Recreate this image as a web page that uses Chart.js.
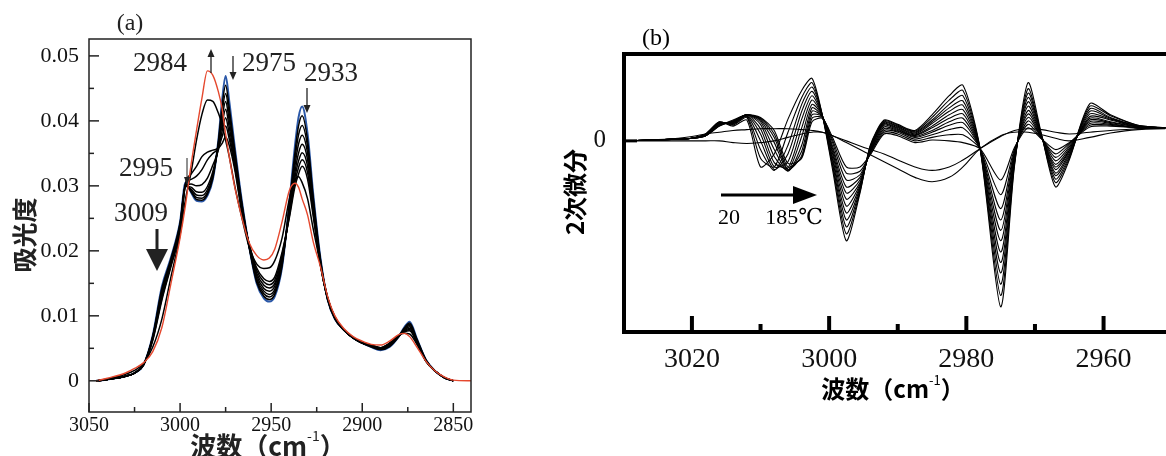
<!DOCTYPE html>
<html>
<head>
<meta charset="utf-8">
<script src="https://cdn.jsdelivr.net/npm/chart.js@4.4.0/dist/chart.umd.min.js"></script>
<style>
  html, body { margin: 0; padding: 0; background: #fff; }
  #wrap { position: relative; width: 1166px; height: 456px; overflow: hidden; background: #fff; }
  .panel { position: absolute; top: 0; height: 456px; }
</style>
</head>
<body>
<div id="wrap">
  <div class="panel" style="left:0;width:560px"><canvas id="chartA"></canvas></div>
  <div class="panel" style="left:560px;width:606px"><canvas id="chartB"></canvas></div>
</div>
<script>
// ---- panel (a): absorbance spectra ----
const wnA = [3046, 3040, 3030, 3025, 3020, 3015, 3010, 3005, 3000, 2997, 2994, 2991, 2988, 2985, 2982, 2979, 2977, 2975, 2973, 2970,
             2966, 2962, 2958, 2954, 2951, 2948, 2944, 2940, 2937, 2935, 2933, 2930, 2927, 2923, 2919, 2915, 2910, 2905, 2900, 2895,
             2890, 2885, 2880, 2877, 2874, 2870, 2865, 2860, 2855, 2850, 2840];

const absT1 = [0, 0.0002, 0.0007, 0.0012, 0.0025, 0.0070, 0.0145, 0.0190, 0.0245, 0.0305, 0.0290, 0.0277, 0.0276, 0.0285, 0.0310, 0.0370, 0.0430, 0.0469, 0.0430, 0.0360,
               0.0275, 0.0205, 0.0150, 0.0127, 0.0122, 0.0130, 0.0175, 0.0275, 0.0360, 0.0405, 0.0422, 0.0380, 0.0290, 0.0190, 0.0125, 0.0095, 0.0078, 0.0066, 0.0058, 0.0052,
               0.0047, 0.0052, 0.0068, 0.0082, 0.0091, 0.0065, 0.0032, 0.0015, 0.0005, 0, null];
const absT2 = [0, 0.0002, 0.0007, 0.0012, 0.0025, 0.0069, 0.0142, 0.0188, 0.0243, 0.0303, 0.0291, 0.0279, 0.0278, 0.0287, 0.0312, 0.0368, 0.0422, 0.0455, 0.0420, 0.0355,
               0.0272, 0.0205, 0.0152, 0.0130, 0.0125, 0.0133, 0.0177, 0.0272, 0.0350, 0.0392, 0.0408, 0.0370, 0.0285, 0.0188, 0.0125, 0.0095, 0.0078, 0.0066, 0.0058, 0.0052,
               0.0048, 0.0053, 0.0068, 0.0081, 0.0089, 0.0064, 0.0032, 0.0015, 0.0005, 0, null];
const absT3 = [0, 0.0002, 0.0007, 0.0012, 0.0025, 0.0068, 0.0139, 0.0186, 0.0241, 0.0301, 0.0293, 0.0282, 0.0281, 0.0290, 0.0315, 0.0365, 0.0412, 0.0442, 0.0410, 0.0350,
               0.0270, 0.0205, 0.0155, 0.0134, 0.0129, 0.0137, 0.0180, 0.0268, 0.0340, 0.0378, 0.0393, 0.0360, 0.0280, 0.0186, 0.0125, 0.0096, 0.0078, 0.0066, 0.0058, 0.0053,
               0.0048, 0.0053, 0.0068, 0.0080, 0.0087, 0.0063, 0.0032, 0.0015, 0.0005, 0, null];
const absT4 = [0, 0.0002, 0.0007, 0.0012, 0.0025, 0.0067, 0.0136, 0.0184, 0.0239, 0.0300, 0.0295, 0.0286, 0.0285, 0.0294, 0.0318, 0.0362, 0.0403, 0.0430, 0.0400, 0.0345,
               0.0267, 0.0206, 0.0158, 0.0138, 0.0133, 0.0141, 0.0183, 0.0264, 0.0330, 0.0364, 0.0378, 0.0350, 0.0275, 0.0184, 0.0126, 0.0096, 0.0078, 0.0066, 0.0058, 0.0053,
               0.0049, 0.0054, 0.0068, 0.0079, 0.0085, 0.0062, 0.0031, 0.0015, 0.0005, 0, null];
const absT5 = [0, 0.0002, 0.0007, 0.0012, 0.0025, 0.0066, 0.0133, 0.0182, 0.0237, 0.0299, 0.0298, 0.0291, 0.0290, 0.0299, 0.0322, 0.0358, 0.0393, 0.0418, 0.0390, 0.0340,
               0.0265, 0.0207, 0.0162, 0.0142, 0.0138, 0.0146, 0.0186, 0.0260, 0.0320, 0.0350, 0.0364, 0.0340, 0.0270, 0.0182, 0.0126, 0.0097, 0.0078, 0.0066, 0.0058, 0.0054,
               0.0049, 0.0055, 0.0069, 0.0078, 0.0083, 0.0061, 0.0031, 0.0015, 0.0005, 0, null];
const absT6 = [0, 0.0002, 0.0007, 0.0012, 0.0025, 0.0065, 0.0130, 0.0180, 0.0235, 0.0300, 0.0303, 0.0300, 0.0302, 0.0312, 0.0332, 0.0355, 0.0383, 0.0405, 0.0380, 0.0335,
               0.0262, 0.0208, 0.0166, 0.0147, 0.0143, 0.0150, 0.0190, 0.0257, 0.0312, 0.0338, 0.0351, 0.0330, 0.0265, 0.0180, 0.0127, 0.0097, 0.0078, 0.0066, 0.0058, 0.0054,
               0.0050, 0.0056, 0.0069, 0.0077, 0.0081, 0.0060, 0.0031, 0.0015, 0.0005, 0, null];
const absT7 = [0, 0.0002, 0.0007, 0.0012, 0.0025, 0.0064, 0.0127, 0.0178, 0.0233, 0.0302, 0.0310, 0.0315, 0.0325, 0.0340, 0.0350, 0.0358, 0.0375, 0.0392, 0.0372, 0.0330,
               0.0260, 0.0209, 0.0170, 0.0152, 0.0148, 0.0155, 0.0194, 0.0254, 0.0305, 0.0328, 0.0340, 0.0320, 0.0260, 0.0179, 0.0127, 0.0098, 0.0078, 0.0066, 0.0058, 0.0055,
               0.0050, 0.0057, 0.0069, 0.0076, 0.0079, 0.0059, 0.0030, 0.0015, 0.0005, 0, null];
const absT8 = [0, 0.0002, 0.0007, 0.0012, 0.0025, 0.0062, 0.0124, 0.0176, 0.0231, 0.0304, 0.0318, 0.0330, 0.0345, 0.0352, 0.0355, 0.0358, 0.0365, 0.0375, 0.0362, 0.0325,
               0.0258, 0.0210, 0.0174, 0.0157, 0.0153, 0.0160, 0.0198, 0.0251, 0.0298, 0.0318, 0.0330, 0.0310, 0.0255, 0.0178, 0.0128, 0.0098, 0.0078, 0.0066, 0.0058, 0.0055,
               0.0051, 0.0058, 0.0070, 0.0075, 0.0077, 0.0058, 0.0030, 0.0015, 0.0005, 0, null];
const absT9 = [0, 0.0003, 0.0010, 0.0016, 0.0027, 0.0052, 0.0095, 0.0160, 0.0225, 0.0280, 0.0320, 0.0370, 0.0410, 0.0432, 0.0430, 0.0412, 0.0395, 0.0370, 0.0345, 0.0300,
               0.0250, 0.0205, 0.0180, 0.0173, 0.0174, 0.0185, 0.0220, 0.0280, 0.0308, 0.0314, 0.0305, 0.0280, 0.0235, 0.0180, 0.0128, 0.0098, 0.0079, 0.0067, 0.0059, 0.0055,
               0.0051, 0.0058, 0.0070, 0.0073, 0.0072, 0.0056, 0.0030, 0.0015, 0.0005, 0, null];
const absRed = [0, 0.0004, 0.0012, 0.0019, 0.0028, 0.0045, 0.0082, 0.0150, 0.0220, 0.0271, 0.0332, 0.0385, 0.0435, 0.0477, 0.0470, 0.0445, 0.0420, 0.0380, 0.0345, 0.0298,
                0.0250, 0.0212, 0.0193, 0.0186, 0.0189, 0.0203, 0.0245, 0.0293, 0.0304, 0.0298, 0.0280, 0.0255, 0.0215, 0.0176, 0.0130, 0.0100, 0.0080, 0.0068, 0.0061, 0.0056,
                0.0055, 0.0061, 0.0071, 0.0073, 0.0068, 0.0052, 0.0030, 0.0015, 0.0006, 0.0001, 0];

const xMajorA = [3050, 3000, 2950, 2900, 2850];
const xMinorA = [3025, 2975, 2925, 2875];
const yMajorA = [0, 0.01, 0.02, 0.03, 0.04, 0.05];
const yMinorA = [0.005, 0.015, 0.025, 0.035, 0.045];

// ---- panel (b): second derivative spectra ----
const wnB = [3030, 3026, 3022, 3020, 3018, 3016, 3014, 3012, 3010, 3008, 3006, 3004, 3002.5, 3001, 2999.5, 2997.5, 2995.5, 2994,
             2992, 2990, 2987.5, 2985, 2982.5, 2980.5, 2978, 2975, 2973, 2971, 2969, 2967, 2965, 2962, 2959, 2955, 2951];

const d2T1  = [0, 0.01, 0.02, 0.03, 0.08, 0.22, 0.17, 0.24, -0.30, -0.15, 0.25, 0.58, 0.72, 0.30, -0.33, -1.15, -0.60, -0.05, 0.24, 0.19, 0.12, 0.30, 0.52, 0.64, -0.09, -1.91, -0.30, 0.67, 0.06, -0.53, -0.22, 0.43, 0.30, 0.18, 0.15];
const d2T2  = [0, 0.01, 0.02, 0.03, 0.08, 0.22, 0.18, 0.27, -0.20, -0.30, 0.10, 0.50, 0.67, 0.30, -0.29, -1.07, -0.58, -0.06, 0.23, 0.18, 0.11, 0.27, 0.47, 0.58, -0.09, -1.78, -0.28, 0.60, 0.05, -0.48, -0.20, 0.40, 0.29, 0.18, 0.15];
const d2T3  = [0, 0.01, 0.02, 0.03, 0.08, 0.21, 0.19, 0.28, -0.10, -0.34, -0.05, 0.42, 0.62, 0.30, -0.26, -0.99, -0.56, -0.07, 0.22, 0.17, 0.10, 0.24, 0.42, 0.52, -0.09, -1.65, -0.26, 0.55, 0.05, -0.44, -0.18, 0.37, 0.27, 0.17, 0.15];
const d2T4  = [0, 0.01, 0.02, 0.03, 0.07, 0.21, 0.20, 0.29, 0.00, -0.33, -0.15, 0.34, 0.57, 0.29, -0.22, -0.91, -0.54, -0.08, 0.21, 0.16, 0.09, 0.22, 0.38, 0.46, -0.09, -1.52, -0.24, 0.50, 0.05, -0.40, -0.16, 0.34, 0.26, 0.17, 0.15];
const d2T5  = [0, 0.01, 0.02, 0.03, 0.07, 0.20, 0.20, 0.29, 0.08, -0.30, -0.24, 0.25, 0.52, 0.29, -0.19, -0.83, -0.52, -0.09, 0.20, 0.15, 0.08, 0.20, 0.34, 0.41, -0.09, -1.40, -0.22, 0.45, 0.04, -0.37, -0.14, 0.31, 0.25, 0.17, 0.15];
const d2T6  = [0, 0.01, 0.02, 0.03, 0.07, 0.20, 0.21, 0.30, 0.14, -0.25, -0.31, 0.15, 0.47, 0.29, -0.15, -0.75, -0.50, -0.10, 0.19, 0.14, 0.07, 0.17, 0.30, 0.36, -0.09, -1.28, -0.20, 0.40, 0.04, -0.33, -0.12, 0.28, 0.24, 0.16, 0.15];
const d2T7  = [0, 0.01, 0.02, 0.03, 0.07, 0.19, 0.21, 0.30, 0.19, -0.18, -0.34, 0.05, 0.42, 0.29, -0.12, -0.67, -0.48, -0.11, 0.18, 0.13, 0.06, 0.15, 0.26, 0.31, -0.09, -1.15, -0.18, 0.35, 0.04, -0.30, -0.11, 0.26, 0.22, 0.16, 0.15];
const d2T8  = [0, 0.01, 0.02, 0.03, 0.06, 0.19, 0.22, 0.30, 0.22, -0.10, -0.35, -0.05, 0.38, 0.28, -0.09, -0.60, -0.45, -0.12, 0.16, 0.12, 0.05, 0.12, 0.22, 0.26, -0.09, -1.03, -0.16, 0.31, 0.03, -0.27, -0.09, 0.24, 0.21, 0.16, 0.15];
const d2T9  = [0, 0.01, 0.02, 0.03, 0.06, 0.18, 0.22, 0.30, 0.24, -0.02, -0.34, -0.12, 0.34, 0.28, -0.06, -0.53, -0.42, -0.13, 0.14, 0.11, 0.04, 0.10, 0.18, 0.21, -0.09, -0.91, -0.14, 0.27, 0.03, -0.23, -0.07, 0.22, 0.20, 0.15, 0.15];
const d2T10 = [0, 0.01, 0.02, 0.03, 0.06, 0.18, 0.23, 0.30, 0.25, 0.04, -0.33, -0.17, 0.30, 0.28, -0.02, -0.45, -0.39, -0.14, 0.12, 0.10, 0.02, 0.07, 0.13, 0.15, -0.09, -0.78, -0.12, 0.23, 0.03, -0.19, -0.05, 0.20, 0.19, 0.15, 0.15];
const d2T11 = [0, 0.01, 0.02, 0.03, 0.06, 0.17, 0.23, 0.30, 0.26, 0.08, -0.30, -0.19, 0.26, 0.27, 0.01, -0.37, -0.35, -0.15, 0.10, 0.08, 0.00, 0.04, 0.07, 0.07, -0.09, -0.62, -0.10, 0.19, 0.02, -0.15, -0.03, 0.18, 0.18, 0.15, 0.15];
const d2T12 = [0, 0.01, 0.02, 0.03, 0.06, 0.17, 0.24, 0.30, 0.27, 0.12, -0.26, -0.20, 0.22, 0.26, 0.04, -0.30, -0.30, -0.16, 0.08, 0.06, -0.02, 0.01, 0.00, -0.02, -0.09, -0.45, -0.08, 0.15, 0.02, -0.10, -0.02, 0.16, 0.17, 0.15, 0.15];
const d2H1  = [0, 0.01, 0.03, 0.05, 0.08, 0.10, 0.12, 0.13, 0.14, 0.14, 0.14, 0.13, 0.12, 0.10, 0.06, 0.00, -0.06, -0.10, -0.15, -0.22, -0.30, -0.34, -0.30, -0.22, -0.09, 0.05, 0.12, 0.14, 0.13, 0.10, 0.08, 0.10, 0.12, 0.14, 0.15];
const d2H2  = [0, 0, 0, 0, 0, 0, -0.02, -0.03, -0.02, 0, 0.04, 0.08, 0.10, 0.10, 0.06, -0.02, -0.10, -0.16, -0.24, -0.32, -0.42, -0.47, -0.42, -0.30, -0.09, 0.06, 0.10, 0.10, 0.07, 0.03, 0.00, 0.04, 0.09, 0.13, 0.14];

const xMajorB = [3020, 3000, 2980, 2960];
const xMinorB = [3010, 2990, 2970];
const yTicksB = [0];

const serif = "'Liberation Serif', 'DejaVu Serif', serif";
const gothic = "'Noto Sans CJK JP', 'Noto Sans', sans-serif";

function pts(xs, ys) { return xs.map((x, i) => ({ x: x, y: ys[i] })); }

function line(ctx, x0, y0, x1, y1) {
  ctx.beginPath(); ctx.moveTo(x0, y0); ctx.lineTo(x1, y1); ctx.stroke();
}

// vertical arrow, tip at yTip
function vArrow(ctx, x, yTail, yTip, headLen, headHalf, lw) {
  const dir = yTip > yTail ? 1 : -1;
  ctx.lineWidth = lw;
  line(ctx, x, yTail, x, yTip - dir * headLen * 0.6);
  ctx.beginPath();
  ctx.moveTo(x, yTip);
  ctx.lineTo(x - headHalf, yTip - dir * headLen);
  ctx.lineTo(x + headHalf, yTip - dir * headLen);
  ctx.closePath(); ctx.fill();
}

// "波数（cm-1）" with a raised -1
function waveTitle(ctx, cx, cy, size) {
  const supSize = Math.round(size * 0.55);
  ctx.font = 'bold ' + size + 'px ' + gothic;
  const p1 = '波数（cm', p3 = '）';
  const w1 = ctx.measureText(p1).width, w3 = ctx.measureText(p3).width;
  ctx.font = supSize + 'px ' + gothic;
  const w2 = ctx.measureText('-1').width;
  let x = cx - (w1 + w2 + w3) / 2;
  ctx.textAlign = 'left'; ctx.textBaseline = 'middle';
  ctx.font = 'bold ' + size + 'px ' + gothic;
  ctx.fillText(p1, x, cy); x += w1;
  ctx.font = supSize + 'px ' + gothic;
  ctx.fillText('-1', x, cy - size * 0.38); x += w2;
  ctx.font = 'bold ' + size + 'px ' + gothic;
  ctx.fillText(p3, x, cy);
}

function vTitle(ctx, text, cx, cy, size) {
  ctx.save();
  ctx.translate(cx, cy); ctx.rotate(-Math.PI / 2);
  ctx.font = 'bold ' + size + 'px ' + gothic;
  ctx.textAlign = 'center'; ctx.textBaseline = 'middle';
  ctx.fillText(text, 0, 0);
  ctx.restore();
}

const decorA = {
  id: 'decorA',
  afterDraw(chart) {
    const ctx = chart.ctx, a = chart.chartArea, sx = chart.scales.x, sy = chart.scales.y;
    ctx.save();
    ctx.strokeStyle = '#222'; ctx.fillStyle = '#222'; ctx.lineWidth = 1.5;
    ctx.strokeRect(a.left, a.top, a.right - a.left, a.bottom - a.top);
    xMajorA.forEach(v => { const x = sx.getPixelForValue(v); line(ctx, x, a.bottom, x, a.bottom - 9); });
    xMinorA.forEach(v => { const x = sx.getPixelForValue(v); line(ctx, x, a.bottom, x, a.bottom - 5); });
    yMajorA.forEach(v => { const y = sy.getPixelForValue(v); line(ctx, a.left, y, a.left + 10, y); });
    yMinorA.forEach(v => { const y = sy.getPixelForValue(v); line(ctx, a.left, y, a.left + 5, y); });

    // peak labels
    ctx.textAlign = 'center'; ctx.textBaseline = 'middle';
    ctx.font = '27px ' + serif;
    ctx.fillText('2984', 160, 64);
    ctx.fillText('2975', 269, 64);
    ctx.fillText('2933', 331, 74);
    ctx.fillText('2995', 146, 169);
    ctx.fillText('3009', 141, 214);
    vArrow(ctx, 211, 73, 49, 8, 3.5, 1.3);
    vArrow(ctx, 233, 56, 80, 8, 3.5, 1.3);
    vArrow(ctx, 307, 88, 113, 8, 3.5, 1.3);
    vArrow(ctx, 187, 158, 185, 8, 3, 1);
    vArrow(ctx, 157, 229, 271, 22, 11, 3);

    ctx.font = '24px ' + serif;
    ctx.fillText('(a)', 130, 24);
    vTitle(ctx, '吸光度', 24, 235, 25);
    waveTitle(ctx, 268, 446, 26);
    ctx.restore();
  }
};

const decorB = {
  id: 'decorB',
  afterDraw(chart) {
    const ctx = chart.ctx, a = chart.chartArea, sx = chart.scales.x, sy = chart.scales.y;
    ctx.save();
    ctx.strokeStyle = '#000'; ctx.fillStyle = '#000'; ctx.lineWidth = 4;
    ctx.beginPath();
    ctx.moveTo(a.right + 5, a.top); ctx.lineTo(a.left, a.top); ctx.lineTo(a.left, a.bottom); ctx.lineTo(a.right + 5, a.bottom);
    ctx.stroke();
    xMajorB.forEach(v => { const x = sx.getPixelForValue(v); line(ctx, x, a.bottom, x, a.bottom - 16); });
    xMinorB.forEach(v => { const x = sx.getPixelForValue(v); line(ctx, x, a.bottom, x, a.bottom - 8); });
    ctx.lineWidth = 3;
    yTicksB.forEach(v => { const y = sy.getPixelForValue(v); line(ctx, a.left, y, a.left + 13, y); });

    // temperature arrow (positions relative to this canvas)
    ctx.lineWidth = 3;
    line(ctx, 161, 195, 236, 195);
    ctx.beginPath(); ctx.moveTo(257, 195); ctx.lineTo(233, 186); ctx.lineTo(233, 204); ctx.closePath(); ctx.fill();
    ctx.textAlign = 'center'; ctx.textBaseline = 'middle';
    ctx.font = '22px ' + serif;
    ctx.fillText('20', 169, 218);
    ctx.fillText('185℃', 234, 218);

    ctx.font = '24px ' + serif;
    ctx.fillText('(b)', 96, 39);
    vTitle(ctx, '2次微分', 15, 192, 24);
    waveTitle(ctx, 333, 389, 24);
    ctx.restore();
  }
};

const blackA = [absT2, absT3, absT4, absT5, absT6, absT7, absT8, absT9];
const dsA = [
  { data: pts(wnA, absRed), borderColor: '#e5482e', borderWidth: 1.4, order: 0 },
  ...blackA.map(ys => ({ data: pts(wnA, ys), borderColor: '#000', borderWidth: 1.5, order: 1 })),
  { data: pts(wnA, absT1), borderColor: '#2b58a8', borderWidth: 2, order: 2 }
];

new Chart(document.getElementById('chartA'), {
  type: 'line',
  data: { datasets: dsA },
  options: {
    responsive: true, maintainAspectRatio: false, animation: false, devicePixelRatio: 1, events: [],
    layout: { padding: { left: 0, top: 39, right: 89, bottom: 0 } },
    elements: { point: { radius: 0 }, line: { cubicInterpolationMode: 'monotone' } },
    plugins: { legend: { display: false }, tooltip: { enabled: false } },
    scales: {
      x: {
        type: 'linear', reverse: true, min: 2840.3, max: 3050,
        afterFit: s => { s.height = 44; },
        afterBuildTicks: s => { s.ticks = xMajorA.map(v => ({ value: v })); },
        grid: { display: false }, border: { display: false },
        ticks: { font: { family: serif, size: 20 }, color: '#111', padding: -6, maxRotation: 0, autoSkip: false, callback: v => String(v) }
      },
      y: {
        min: -0.0048, max: 0.0526,
        afterFit: s => { s.width = 89; },
        afterBuildTicks: s => { s.ticks = yMajorA.map(v => ({ value: v })); },
        grid: { display: false }, border: { display: false },
        ticks: { font: { family: serif, size: 22 }, color: '#111', padding: 2, callback: v => v === 0 ? '0' : v.toFixed(2) }
      }
    }
  },
  plugins: [decorA]
});

const familyB = [d2T1, d2T2, d2T3, d2T4, d2T5, d2T6, d2T7, d2T8, d2T9, d2T10, d2T11, d2T12];
const dsB = [
  ...familyB.map(ys => ({ data: pts(wnB, ys), borderColor: '#000', borderWidth: 1.1, tension: 0.25 })),
  { data: pts(wnB, d2H1), borderColor: '#000', borderWidth: 1.1, tension: 0.4 },
  { data: pts(wnB, d2H2), borderColor: '#000', borderWidth: 1.1, tension: 0.4 }
];

new Chart(document.getElementById('chartB'), {
  type: 'line',
  data: { datasets: dsB },
  options: {
    responsive: true, maintainAspectRatio: false, animation: false, devicePixelRatio: 1, events: [],
    layout: { padding: { left: 0, top: 54, right: 0, bottom: 0 } },
    elements: { point: { radius: 0 } },
    plugins: { legend: { display: false }, tooltip: { enabled: false } },
    scales: {
      x: {
        type: 'linear', reverse: true, min: 2950.9, max: 3029.9,
        afterFit: s => { s.height = 124; },
        afterBuildTicks: s => { s.ticks = xMajorB.map(v => ({ value: v })); },
        grid: { display: false }, border: { display: false },
        ticks: { font: { family: serif, size: 28 }, color: '#111', padding: 3, maxRotation: 0, autoSkip: false, callback: v => String(v) }
      },
      y: {
        min: -2.2, max: 1,
        afterFit: s => { s.width = 64; },
        afterBuildTicks: s => { s.ticks = yTicksB.map(v => ({ value: v })); },
        grid: { display: false }, border: { display: false },
        ticks: { font: { family: serif, size: 25 }, color: '#111', padding: 10, callback: v => String(v) }
      }
    }
  },
  plugins: [decorB]
});
</script>
</body>
</html>
